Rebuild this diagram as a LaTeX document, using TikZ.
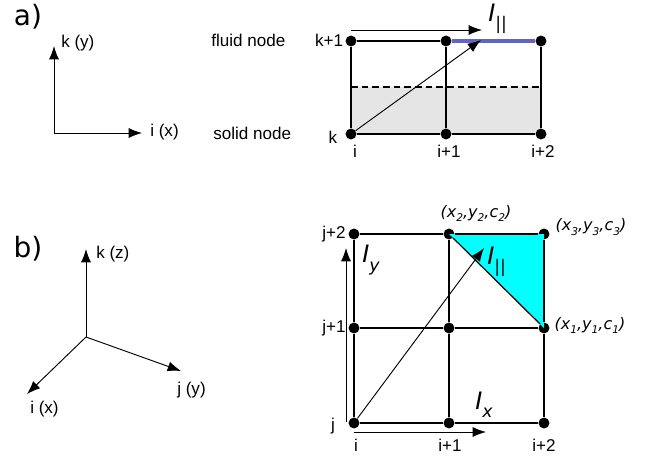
\documentclass[tikz,border=0pt]{standalone}
\usepackage{fontspec}
\setmainfont{Liberation Sans}
\newfontfamily\panelfont{DejaVu Sans}
\usetikzlibrary{arrows.meta,positioning,calc,fit}
\definecolor{tricyan}{RGB}{0,255,255}
\definecolor{wallblue}{RGB}{100,100,200}
\tikzset{
  gridnode/.style={circle, fill=black, inner sep=0pt, minimum size=8.2pt},
  gridline/.style={draw=black, line width=1.4pt},
  vector/.style={-{Latex[length=10pt,width=7.5pt]}, line width=0.7pt},
  axis/.style={-{Latex[length=10pt,width=7.5pt]}, line width=0.7pt},
  labeltext/.style={inner sep=0pt, font=\fontsize{12.8pt}{15pt}\selectfont},
  coordtext/.style={inner sep=0pt, font=\panelfont\itshape\fontsize{12pt}{14pt}\selectfont},
  panellabel/.style={inner sep=0pt, font=\panelfont\fontsize{21pt}{24pt}\selectfont},
  lengthtext/.style={inner sep=0pt, font=\panelfont\itshape\fontsize{18pt}{21pt}\selectfont}
}
\newcommand{\lsub}[1]{\raisebox{-0.35em}{\fontsize{13pt}{15pt}\selectfont #1}}
\newcommand{\csub}[1]{\raisebox{-0.25em}{\fontsize{8pt}{9pt}\selectfont #1}}

\begin{document}
\begin{tikzpicture}[x=0.75pt, y=-0.75pt]
  \useasboundingbox (0,0) rectangle (649,457);

  % panel a
  \node[panellabel] (la) at (28,17) {a)};
  \coordinate (ao) at (54,133);
  \coordinate (ak) at (54,46);
  \coordinate (ai) at (142,133);
  \draw[axis] (ao) to (ak);
  \draw[axis] (ao) to (ai);
  \node[labeltext, anchor=west] (lak) at (61,43) {k (y)};
  \node[labeltext, anchor=west] (lai) at (150,132) {i (x)};
  \node[labeltext, anchor=west] (lfluid) at (211,40) {fluid node};
  \node[labeltext, anchor=west] (lsolid) at (213,133) {solid node};

  \fill[gray!20] (351,87) rectangle (541,134);
  \node[gridnode] (a00) at (351,134) {};
  \node[gridnode] (a10) at (446,134) {};
  \node[gridnode] (a20) at (541,134) {};
  \node[gridnode] (a01) at (351,41) {};
  \node[gridnode] (a11) at (446,41) {};
  \node[gridnode] (a21) at (541,41) {};
  \coordinate (dl) at (351,87);
  \coordinate (dr) at (541,87);
  \draw[gridline] (a00) to (a10);
  \draw[gridline] (a10) to (a20);
  \draw[gridline] (a00) to (a01);
  \draw[gridline] (a10) to (a11);
  \draw[gridline] (a20) to (a21);
  \draw[gridline] (a01) to (a11);
  \draw[line width=2.6pt, draw=wallblue] (a11) to (a21);
  \draw[line width=0.9pt, dash pattern=on 5pt off 3pt] (dl) to (dr);
  \coordinate (at) at (481,40);
  \coordinate (as) at (351,30);
  \coordinate (ae) at (482,30);
  \draw[vector] (a00) to (at);
  \draw[vector] (as) to (ae);
  \node[lengthtext, anchor=west] (lpa) at (488,19) {I\lsub{||}};
  \node[labeltext] (lk1) at (329,40) {k+1};
  \node[labeltext] (lk) at (333,137) {k};
  \node[labeltext] (li) at (355,151) {i};
  \node[labeltext] (li1) at (449,151) {i+1};
  \node[labeltext] (li2) at (543,151) {i+2};

  % panel b
  \node[panellabel] (lb) at (28,249) {b)};
  \coordinate (bo) at (86,337);
  \coordinate (bk) at (86,249);
  \coordinate (bj) at (181,371);
  \coordinate (bi) at (27,394);
  \draw[axis] (bo) to (bk);
  \draw[axis] (bo) to (bj);
  \draw[axis] (bo) to (bi);
  \node[labeltext, anchor=west] (lbk) at (96,254) {k (z)};
  \node[labeltext, anchor=west] (lbj) at (177,390) {j (y)};
  \node[labeltext, anchor=west] (lbi) at (30,409) {i (x)};

  \node[gridnode] (b00) at (354,423) {};
  \node[gridnode] (b10) at (449,423) {};
  \node[gridnode] (b20) at (544,423) {};
  \node[gridnode] (b01) at (354,328) {};
  \node[gridnode] (b11) at (449,328) {};
  \node[gridnode] (b21) at (544,328) {};
  \node[gridnode] (b02) at (354,234) {};
  \node[gridnode] (b12) at (449,234) {};
  \node[gridnode] (b22) at (544,234) {};
  \fill[tricyan] (b12.center) -- (b22.center) -- (b21.center) -- cycle;
  \draw[gridline] (b00) to (b10);
  \draw[gridline] (b10) to (b20);
  \draw[gridline] (b01) to (b11);
  \draw[gridline] (b11) to (b21);
  \draw[gridline] (b02) to (b12);
  \draw[gridline] (b12) to (b22);
  \draw[gridline] (b00) to (b01);
  \draw[gridline] (b01) to (b02);
  \draw[gridline] (b10) to (b11);
  \draw[gridline] (b11) to (b12);
  \draw[gridline] (b20) to (b21);
  \draw[gridline] (b21) to (b22);
  \draw[line width=0.9pt] (b12) to (b21);
  \coordinate (bt) at (484,248);
  \coordinate (ys) at (346,422);
  \coordinate (ye) at (346,248);
  \coordinate (xs) at (354,432);
  \coordinate (xe) at (486,432);
  \draw[vector] (b00) to (bt);
  \draw[vector] (ys) to (ye);
  \draw[vector] (xs) to (xe);
  \node[lengthtext, anchor=west] (lpb) at (487,262) {I\lsub{||}};
  \node[lengthtext, anchor=west] (ly) at (362,260) {I\lsub{y}};
  \node[lengthtext, anchor=west] (lx) at (475,405) {I\lsub{x}};
  \node[coordtext] (l2) at (476,213) {(x\csub{2},y\csub{2},c\csub{2})};
  \node[coordtext] (l3) at (591,227) {(x\csub{3},y\csub{3},c\csub{3})};
  \node[coordtext] (l1) at (590,325) {(x\csub{1},y\csub{1},c\csub{1})};
  \node[labeltext] (lj2) at (334,234) {j+2};
  \node[labeltext] (lj1) at (334,328) {j+1};
  \node[labeltext] (lj) at (333,426) {j};
  \node[labeltext] (bli) at (356,445) {i};
  \node[labeltext] (bli1) at (450,445) {i+1};
  \node[labeltext] (bli2) at (544,445) {i+2};
\end{tikzpicture}
\end{document}
